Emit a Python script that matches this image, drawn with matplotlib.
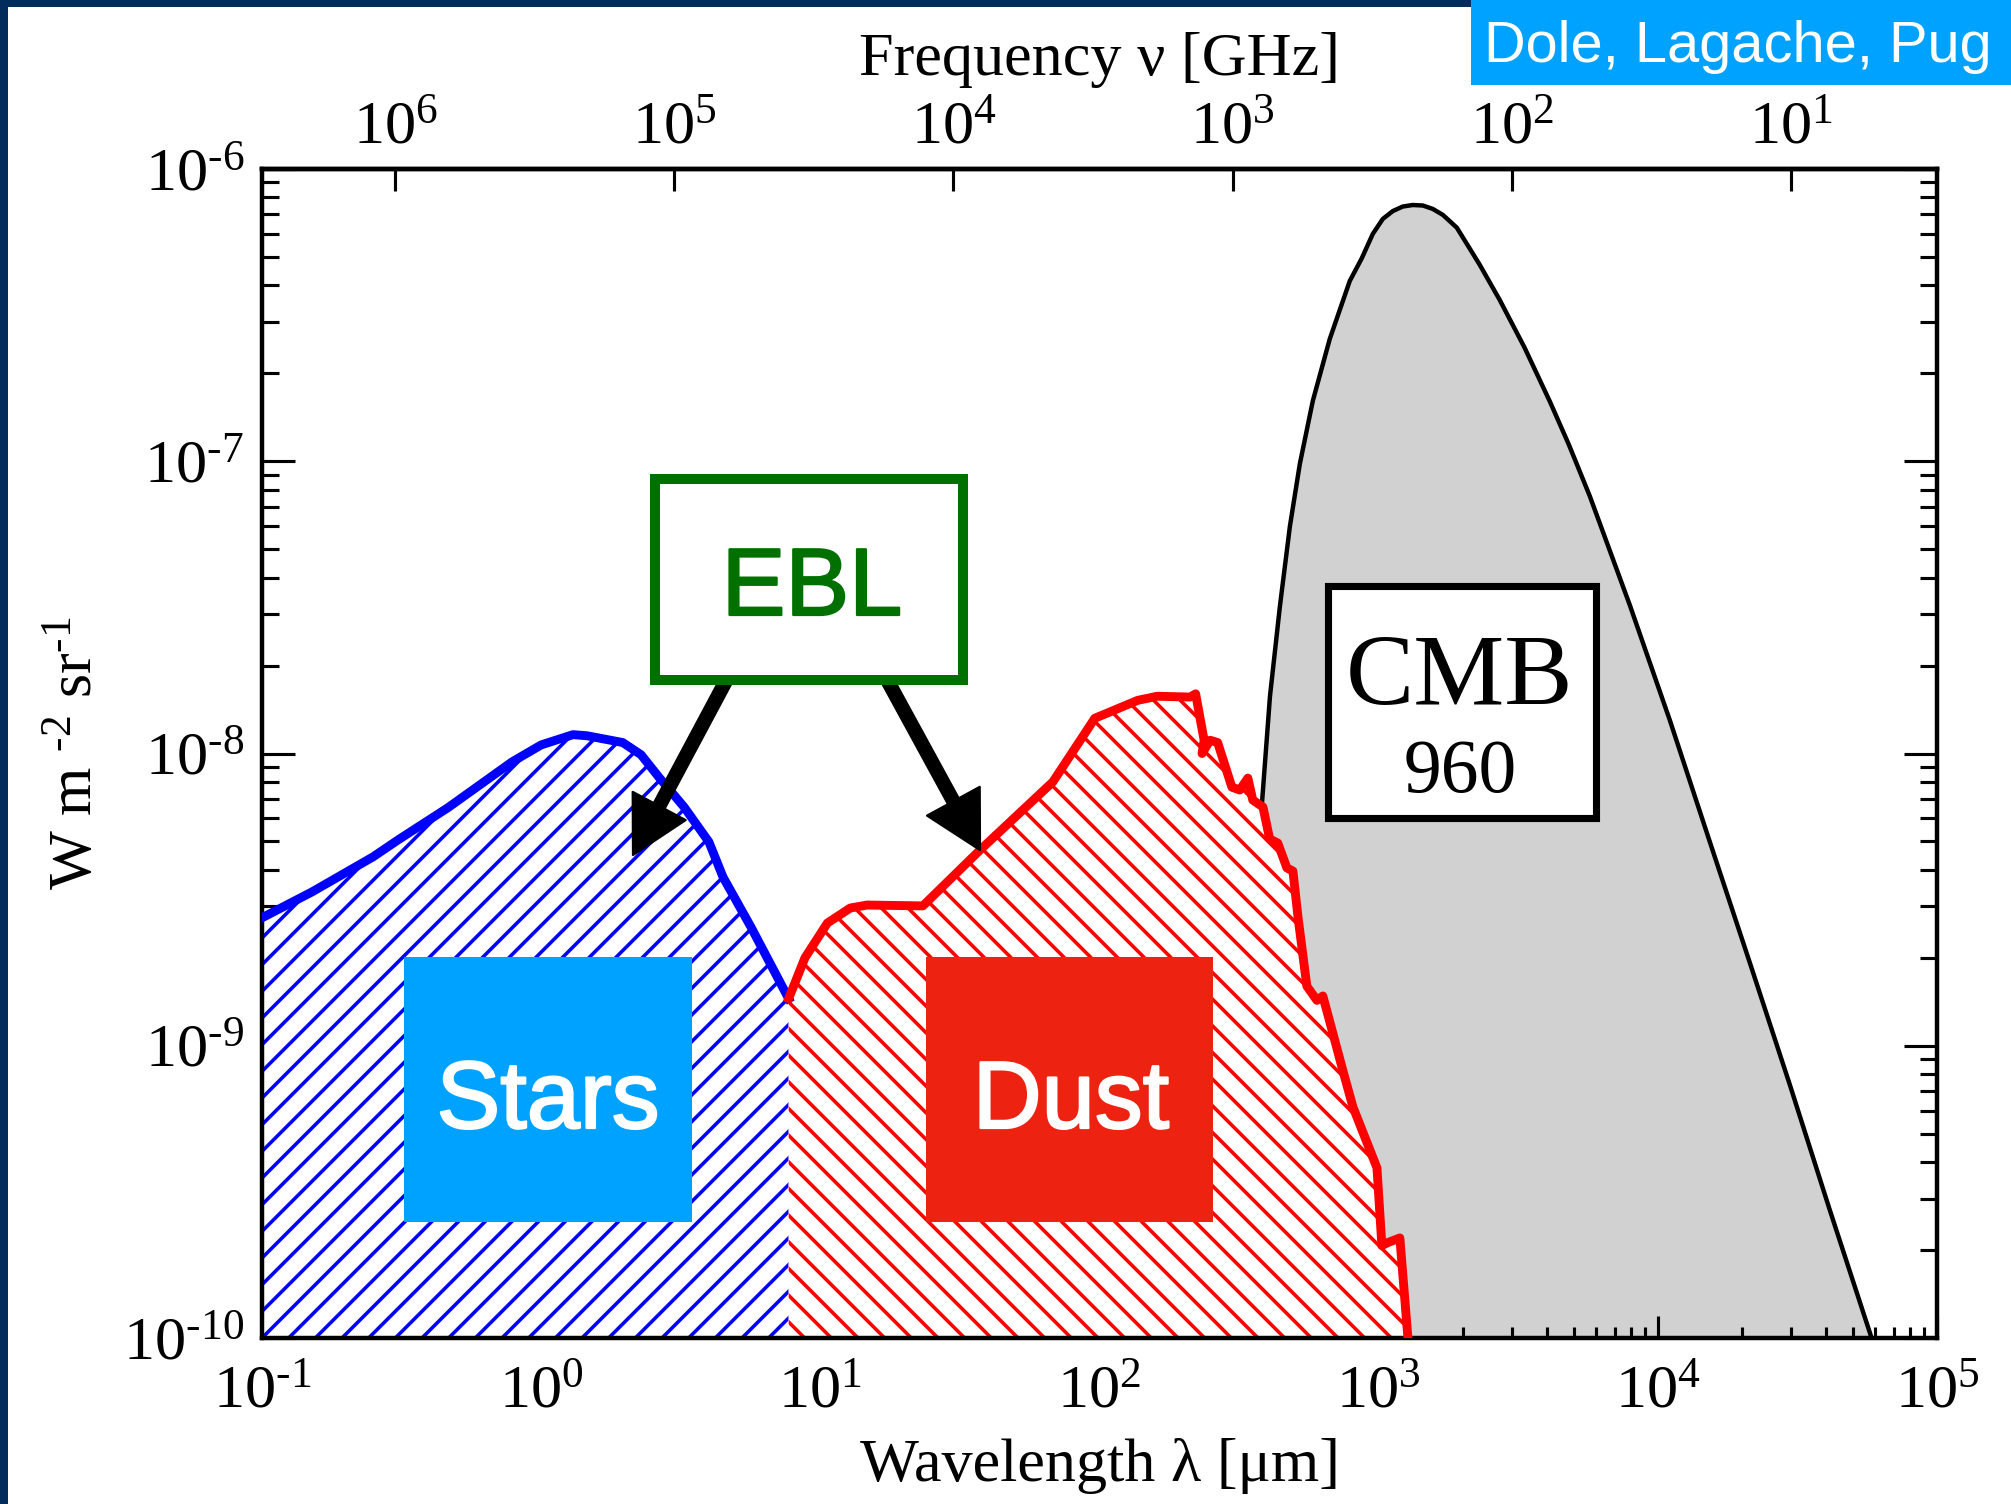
import matplotlib
matplotlib.use('Agg')
import matplotlib.pyplot as plt
import matplotlib.patheffects as pe
import numpy as np
from matplotlib.patches import Rectangle
from matplotlib.ticker import LogLocator, NullLocator, NullFormatter, FuncFormatter

# wavelength [um] and nu*I_nu [W m-2 sr-1]
star_wl = [0.1, 0.151, 0.25, 0.307, 0.463, 0.785, 1.0, 1.30, 1.46, 1.96, 2.28,
           2.64, 3.25, 3.99, 4.48, 5.64, 7.7]
star_flux = [2.74e-9, 3.36e-9, 4.43e-9, 5.06e-9, 6.52e-9, 9.35e-9, 1.07e-8, 1.16e-8,
             1.15e-8, 1.09e-8, 9.9e-9, 8.3e-9, 6.56e-9, 4.98e-9, 3.78e-9, 2.55e-9, 1.45e-9]

dust_wl = [7.7, 8.81, 10.6, 12.8, 14.7, 23.3, 37.3, 68.1, 96.2, 137, 161, 211, 221,
           237, 233, 249, 265, 298, 318, 340, 354, 385, 407, 435, 469, 493, 514,
           553, 601, 631, 745, 809, 986, 1027, 1078, 1191, 1273]
dust_flux = [1.45e-9, 2.0e-9, 2.63e-9, 2.96e-9, 3.03e-9, 3.01e-9, 4.67e-9, 8.0e-9,
             1.32e-8, 1.52e-8, 1.57e-8, 1.56e-8, 1.60e-8, 1.11e-8, 1.0e-8, 1.11e-8,
             1.09e-8, 7.67e-9, 7.5e-9, 8.24e-9, 6.93e-9, 6.56e-9, 5.10e-9, 4.94e-9,
             4.06e-9, 3.96e-9, 2.76e-9, 1.60e-9, 1.43e-9, 1.48e-9, 8.2e-10, 6.17e-10,
             3.82e-10, 2.07e-10, 2.12e-10, 2.20e-10, 1.0e-10]

cmb_wl = [281, 313, 346, 382, 408, 443, 481, 522, 581, 668, 788, 870, 953, 1035,
          1124, 1220, 1325, 1440, 1563, 1700, 1905, 2080, 2302, 2716, 3330, 4106,
          4800, 5705, 7936, 11040, 15360, 21370, 29710, 41310, 58300]
cmb_flux = [1e-10, 1.44e-9, 3.15e-9, 6.78e-9, 1.57e-8, 3.2e-8, 6.0e-8, 9.8e-8,
            1.61e-7, 2.62e-7, 4.14e-7, 4.95e-7, 6.0e-7, 6.75e-7, 7.18e-7, 7.44e-7,
            7.53e-7, 7.5e-7, 7.3e-7, 6.96e-7, 6.3e-7, 5.5e-7, 4.70e-7, 3.56e-7,
            2.45e-7, 1.60e-7, 1.14e-7, 7.6e-8, 3.22e-8, 1.30e-8, 4.98e-9, 1.92e-9,
            7.35e-10, 2.74e-10, 1.0e-10]

YMIN, YMAX = 1e-10, 1e-6
XMIN, XMAX = 0.1, 1e5
C_UM_GHZ = 299792.458  # nu[GHz] = c / lambda[um]

W, H = 2011, 1504
DPI = 160

plt.rcParams['font.family'] = 'Liberation Serif'
plt.rcParams['mathtext.fontset'] = 'custom'
plt.rcParams['mathtext.rm'] = 'Liberation Serif'
plt.rcParams['mathtext.it'] = 'Liberation Serif:italic'
plt.rcParams['mathtext.default'] = 'regular'
plt.rcParams['hatch.linewidth'] = 1.6
SANS = 'Liberation Sans'


def fig_xy(x, y):
    # pixel position (top-left origin) -> figure fraction
    return (x / W, 1 - y / H)


def fig_rect(x0, y0, x1, y1, **kw):
    return Rectangle((x0 / W, 1 - y1 / H), (x1 - x0) / W, (y1 - y0) / H,
                     transform=fig.transFigure, **kw)


def pow10_label(v, pos):
    n = int(round(np.log10(v)))
    if n < 0:
        return r'$\mathdefault{10^{\text{-}%d}}$' % (-n)
    return r'$\mathdefault{10^{%d}}$' % n


fig = plt.figure(figsize=(W / DPI, H / DPI), dpi=DPI)
ax = fig.add_axes([262 / W, 1 - 1338 / H, (1937 - 262) / W, (1338 - 169) / H])
ax.set_xscale('log')
ax.set_yscale('log')
ax.set_xlim(XMIN, XMAX)
ax.set_ylim(YMIN, YMAX)

# CMB
ax.fill_between(cmb_wl, cmb_flux, YMIN, color='#d1d1d1', lw=0, zorder=1)
ax.plot(cmb_wl, cmb_flux, color='black', lw=2.0, zorder=1.5)

# stars and dust, hatched
ax.fill(star_wl + [star_wl[-1], star_wl[0]], star_flux + [YMIN, YMIN],
        facecolor='white', edgecolor='blue', hatch='//', lw=0, zorder=2)
ax.fill(dust_wl + [dust_wl[0]], dust_flux + [YMIN],
        facecolor='white', edgecolor='red', hatch='\\\\', lw=0, zorder=2)
ax.plot(star_wl, star_flux, color='blue', lw=4.0, zorder=3, solid_joinstyle='round')
ax.plot(dust_wl, dust_flux, color='red', lw=4.0, zorder=3, solid_joinstyle='round')

# axes styling
for sp in ax.spines.values():
    sp.set_linewidth(2.0)
ax.tick_params(which='both', direction='in', top=False, right=True, width=1.4,
               labelsize=28)
ax.tick_params(axis='x', which='major', length=10, pad=12)
ax.tick_params(axis='x', which='minor', length=5)
ax.tick_params(axis='y', which='major', length=15, pad=8)
ax.tick_params(axis='y', which='minor', length=7.6)
ax.xaxis.set_major_locator(LogLocator(base=10, numticks=20))
ax.xaxis.set_major_formatter(FuncFormatter(pow10_label))
ax.xaxis.set_minor_locator(LogLocator(base=10, subs=range(2, 10), numticks=100))
ax.xaxis.set_minor_formatter(NullFormatter())
ax.yaxis.set_major_formatter(FuncFormatter(pow10_label))
ax.yaxis.set_minor_locator(LogLocator(base=10, subs=range(2, 10), numticks=100))
ax.yaxis.set_minor_formatter(NullFormatter())

ax.set_xlabel('Wavelength λ [μm]', fontsize=28, labelpad=8)
ax.set_ylabel(r'W m $^{\text{-}2}$ sr$^{\text{-}1}$', fontsize=28)
ax.yaxis.set_label_coords(-0.094, 0.5)

sec = ax.secondary_xaxis('top', functions=(lambda w: C_UM_GHZ / w,
                                            lambda f: C_UM_GHZ / f))
sec.xaxis.set_major_locator(LogLocator(base=10, numticks=20))
sec.xaxis.set_major_formatter(FuncFormatter(pow10_label))
sec.xaxis.set_minor_locator(NullLocator())
sec.tick_params(direction='in', length=10, width=1.4, labelsize=28, pad=5.5)
sec.spines['top'].set_linewidth(2.0)
sec.set_xlabel('Frequency ν [GHz]', fontsize=28, labelpad=12)

# annotations
thick = lambda c: [pe.withStroke(linewidth=1.0, foreground=c)]
fig.add_artist(fig_rect(655, 479, 963, 680, facecolor='white', edgecolor='#007000',
                        lw=4.5, zorder=5))
fig.text(*fig_xy(812, 615), 'EBL', color='#007000', fontsize=43, family=SANS,
         ha='center', va='baseline', zorder=6, path_effects=thick('#007000'))

fig.add_artist(fig_rect(1328, 586, 1596, 818, facecolor='white', edgecolor='black',
                        lw=3.2, zorder=5))
fig.text(*fig_xy(1460, 705), 'CMB', fontsize=46, ha='center', va='baseline', zorder=6)
fig.text(*fig_xy(1460, 792), '960', fontsize=34, ha='center', va='baseline', zorder=6)

fig.add_artist(fig_rect(404, 957, 692, 1222, facecolor='#00a2ff', lw=0, zorder=5))
fig.text(*fig_xy(548, 1128), 'Stars', color='white', fontsize=43, family=SANS,
         ha='center', va='baseline', zorder=6, path_effects=thick('white'))
fig.add_artist(fig_rect(926, 957, 1213, 1222, facecolor='#ee2211', lw=0, zorder=5))
fig.text(*fig_xy(1071, 1128), 'Dust', color='white', fontsize=43, family=SANS,
         ha='center', va='baseline', zorder=6, path_effects=thick('white'))

arrow_style = 'simple,head_length=2.5,head_width=2.7,tail_width=0.55'
for tail, tip in [((728, 677), (633, 855)), ((885, 676), (980, 850))]:
    ax.annotate('', xy=fig_xy(*tip), xytext=fig_xy(*tail),
                xycoords='figure fraction', textcoords='figure fraction',
                annotation_clip=False, zorder=7,
                arrowprops=dict(arrowstyle=arrow_style, mutation_scale=10,
                                color='black', shrinkA=0, shrinkB=0))

# slide frame and credit box
navy = '#022c5b'
fig.add_artist(fig_rect(0, 0, W, 7, facecolor=navy, lw=0, zorder=8))
fig.add_artist(fig_rect(0, 0, 8, H, facecolor=navy, lw=0, zorder=8))
fig.add_artist(fig_rect(1471, 0, W, 85, facecolor='#00a2ff', lw=0, zorder=9))
fig.text(*fig_xy(1484, 62), 'Dole, Lagache, Pug', color='white', fontsize=26,
         family=SANS, ha='left', va='baseline', zorder=10)

fig.savefig('out.png', dpi=DPI)
